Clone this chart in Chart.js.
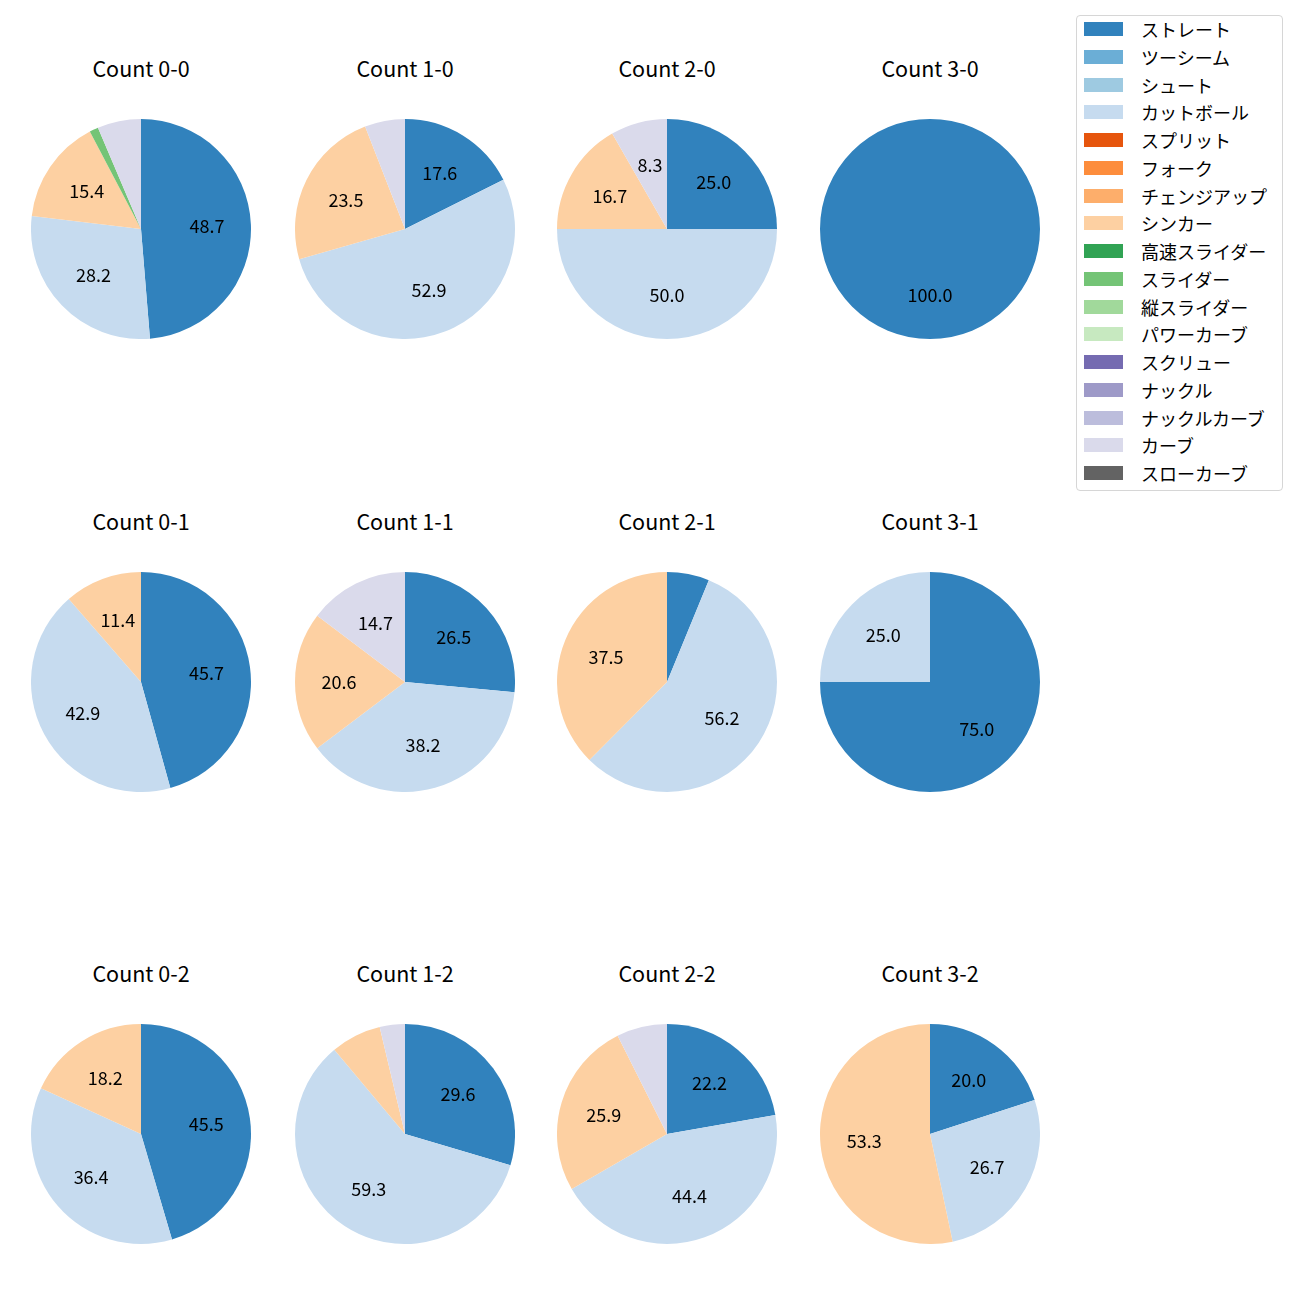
<!DOCTYPE html>
<html>
<head>
<meta charset="utf-8">
<script src="https://cdn.jsdelivr.net/npm/chart.js@4/dist/chart.umd.min.js"></script>
<style>
  body { margin: 0; background: #fff; font-family: "Noto Sans CJK JP", "Noto Sans", sans-serif; }
  #page { position: relative; width: 1300px; height: 1300px; }
  .pie { position: absolute; width: 220px; height: 220px; }
  .title { position: absolute; width: 240px; text-align: center; font-size: 21.5px; color: #000; line-height: 26px; }
  #legend { position: absolute; left: 1076px; top: 15px; width: 207px; height: 476px;
            border: 1px solid rgba(204,204,204,0.8); border-radius: 4px; box-sizing: border-box; }
  .item { position: absolute; left: 7px; height: 24px; font-size: 18px; line-height: 24px; color: #000; }
  .sw { position: absolute; left: 0; top: 5px; width: 39px; height: 14px; }
  .lbl { position: absolute; left: 57px; white-space: nowrap; }
</style>
</head>
<body>
<div id="page"><div id="legend"></div></div>
<script>
// 球種と色 (tab20c)
const pitchTypes = ["ストレート", "ツーシーム", "シュート", "カットボール", "スプリット", "フォーク",
  "チェンジアップ", "シンカー", "高速スライダー", "スライダー", "縦スライダー", "パワーカーブ",
  "スクリュー", "ナックル", "ナックルカーブ", "カーブ", "スローカーブ"];
const pitchColors = ["#3182bd", "#6baed6", "#9ecae1", "#c6dbef", "#e6550d", "#fd8d3c",
  "#fdae6b", "#fdd0a2", "#31a354", "#74c476", "#a1d99b", "#c7e9c0",
  "#756bb1", "#9e9ac8", "#bcbddc", "#dadaeb", "#636363"];

// カウント別の割合 (%)
const counts = ["0-0", "1-0", "2-0", "3-0", "0-1", "1-1", "2-1", "3-1", "0-2", "1-2", "2-2", "3-2"];
const straight = [48.7, 17.6, 25.0, 100.0, 45.7, 26.5, 6.2, 75.0, 45.5, 29.6, 22.2, 20.0];
const cutter   = [28.2, 52.9, 50.0, 0, 42.9, 38.2, 56.2, 25.0, 36.4, 59.3, 44.4, 26.7];
const sinker   = [15.4, 23.5, 16.7, 0, 11.4, 20.6, 37.5, 0, 18.2, 7.4, 25.9, 53.3];
const slider   = [1.3, 0, 0, 0, 0, 0, 0, 0, 0, 0, 0, 0];
const curve    = [6.4, 5.9, 8.3, 0, 0, 14.7, 0, 0, 0, 3.7, 7.4, 0];

const page = document.getElementById("page");
const colX = [141, 405, 667, 930];
const rowY = [229, 682, 1134];
const R = 110;

// ラベル描画 (8%以上のみ)
const pctLabels = {
  id: "pctLabels",
  afterDatasetsDraw(chart) {
    const ctx = chart.ctx;
    const data = chart.data.datasets[0].data;
    const meta = chart.getDatasetMeta(0);
    ctx.save();
    ctx.font = '18px "Noto Sans CJK JP", "Noto Sans", sans-serif';
    ctx.fillStyle = "#000";
    ctx.textAlign = "center";
    ctx.textBaseline = "middle";
    meta.data.forEach(function (arc, i) {
      if (data[i] < 8) return;
      const p = arc.getProps(["startAngle", "endAngle", "outerRadius", "x", "y"], true);
      const mid = (p.startAngle + p.endAngle) / 2;
      const r = p.outerRadius * 0.6;
      ctx.fillText(data[i].toFixed(1), p.x + r * Math.cos(mid), p.y + r * Math.sin(mid));
    });
    ctx.restore();
  }
};

counts.forEach(function (c, k) {
  const cx = colX[k % 4];
  const cy = rowY[Math.floor(k / 4)];

  const t = document.createElement("div");
  t.className = "title";
  t.textContent = "Count " + c;
  t.style.left = (cx - 120) + "px";
  t.style.top = (cy - 174) + "px";
  page.appendChild(t);

  const box = document.createElement("div");
  box.className = "pie";
  box.style.left = (cx - R) + "px";
  box.style.top = (cy - R) + "px";
  const cv = document.createElement("canvas");
  cv.width = 2 * R;
  cv.height = 2 * R;
  box.appendChild(cv);
  page.appendChild(box);

  const values = pitchTypes.map(function (name) {
    if (name === "ストレート") return straight[k];
    if (name === "カットボール") return cutter[k];
    if (name === "シンカー") return sinker[k];
    if (name === "スライダー") return slider[k];
    if (name === "カーブ") return curve[k];
    return 0;
  });

  new Chart(cv.getContext("2d"), {
    type: "pie",
    data: {
      labels: pitchTypes,
      datasets: [{ data: values, backgroundColor: pitchColors, borderWidth: 0 }]
    },
    options: {
      responsive: false,
      animation: false,
      layout: { padding: 0 },
      plugins: { legend: { display: false }, tooltip: { enabled: false } }
    },
    plugins: [pctLabels]
  });
});

// 凡例
const legend = document.getElementById("legend");
pitchTypes.forEach(function (name, i) {
  const it = document.createElement("div");
  it.className = "item";
  it.style.top = (1 + i * 27.75) + "px";
  it.innerHTML = '<span class="sw" style="background:' + pitchColors[i] + '"></span><span class="lbl">' + name + '</span>';
  legend.appendChild(it);
});
</script>
</body>
</html>
